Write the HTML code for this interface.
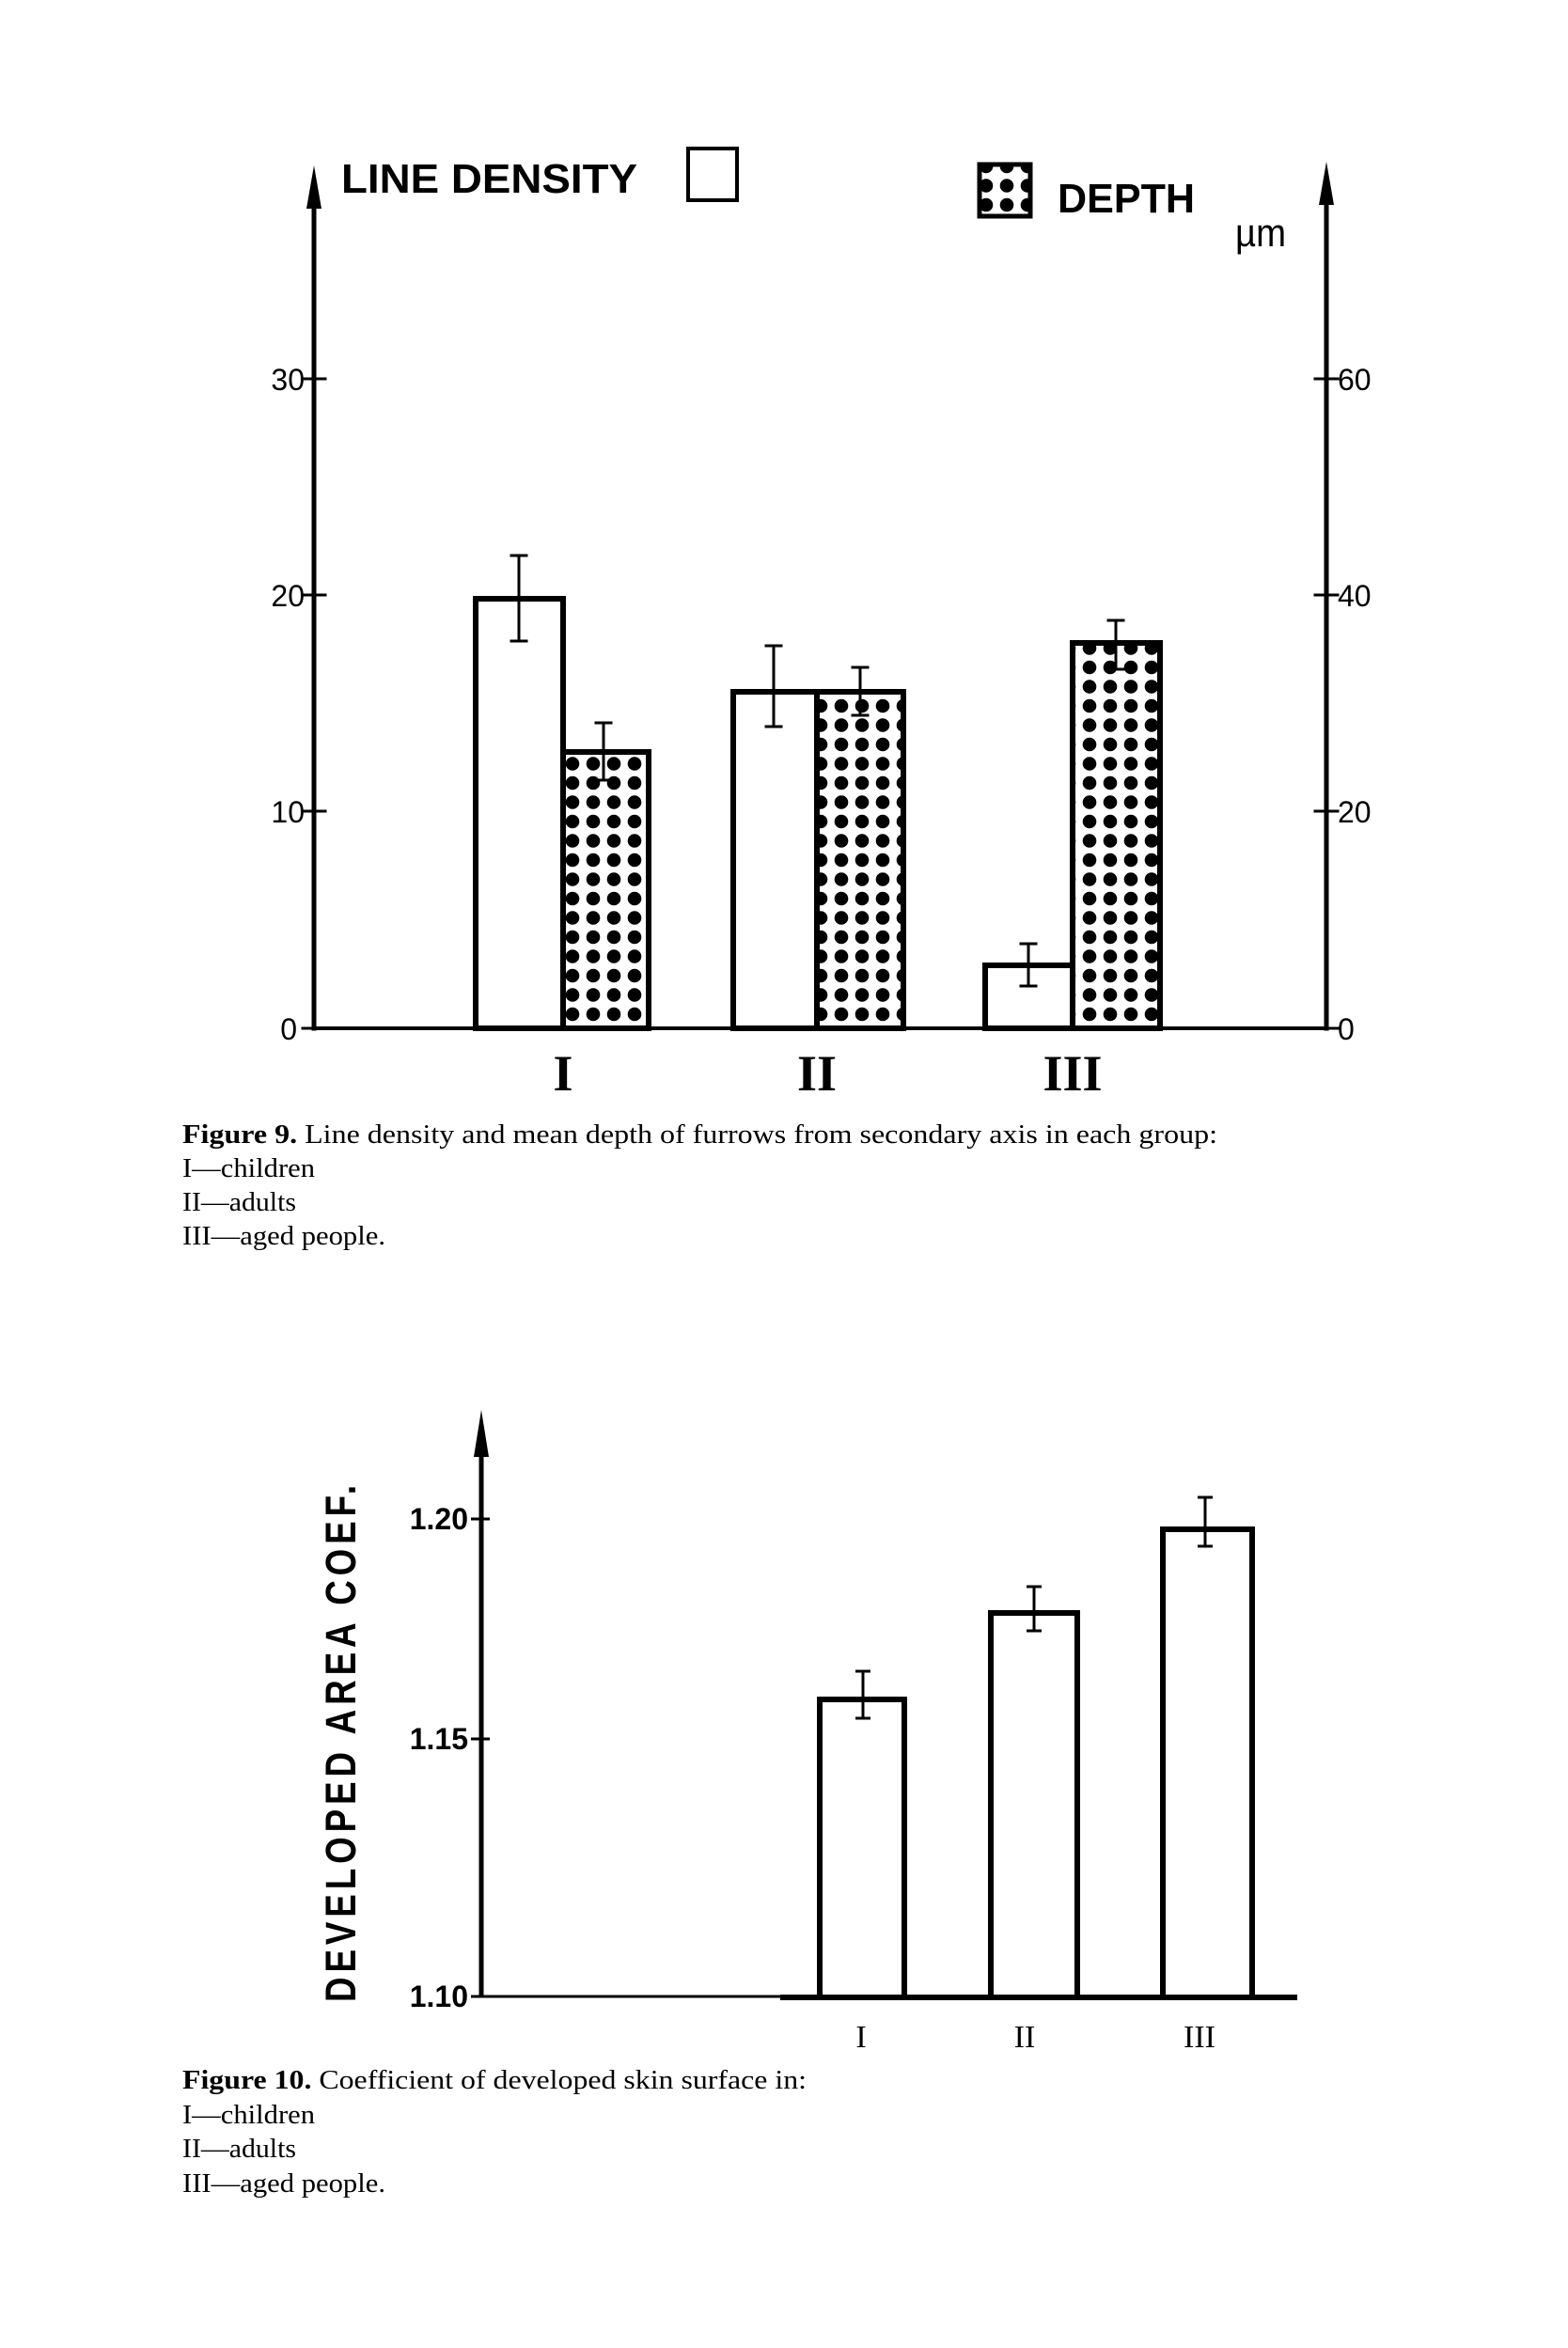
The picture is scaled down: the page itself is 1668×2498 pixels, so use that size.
<!DOCTYPE html>
<html><head><meta charset="utf-8"><style>html,body{margin:0;padding:0;background:#fff}svg{display:block}</style></head>
<body>
<svg width="1668" height="2498" viewBox="0 0 1668 2498" xmlns="http://www.w3.org/2000/svg">
<defs>
<pattern id="dots" width="22" height="20.5" patternUnits="userSpaceOnUse" x="4" y="3">
<circle cx="11" cy="10" r="7.3" fill="#000"/>
</pattern>
</defs>
<g stroke="#000" fill="none" stroke-linecap="square">
<line x1="334" y1="200" x2="334" y2="1094" stroke-width="5"/>
<polygon points="334,176 326,222 342,222" fill="#000" stroke="none"/>
<line x1="1411" y1="200" x2="1411" y2="1094" stroke-width="5"/>
<polygon points="1411,172 1403,218 1419,218" fill="#000" stroke="none"/>
<line x1="334" y1="1094" x2="1411" y2="1094" stroke-width="4"/>
<line x1="322" y1="403" x2="346" y2="403" stroke-width="3"/>
<line x1="322" y1="633" x2="346" y2="633" stroke-width="3"/>
<line x1="322" y1="863" x2="346" y2="863" stroke-width="3"/>
<line x1="322" y1="1094" x2="334" y2="1094" stroke-width="3"/>
<line x1="1399" y1="403" x2="1423" y2="403" stroke-width="3"/>
<line x1="1399" y1="633" x2="1423" y2="633" stroke-width="3"/>
<line x1="1399" y1="863" x2="1423" y2="863" stroke-width="3"/>
<line x1="1411" y1="1094" x2="1423" y2="1094" stroke-width="3"/>
<rect x="506" y="637" width="93" height="457" stroke-width="6"/>
<rect x="599" y="800" width="91" height="294" stroke-width="6" fill="url(#dots)"/>
<rect x="780" y="736" width="89" height="358" stroke-width="6"/>
<rect x="869" y="736" width="92" height="358" stroke-width="6" fill="url(#dots)"/>
<rect x="1048" y="1027" width="93" height="67" stroke-width="6"/>
<rect x="1141" y="684" width="93" height="410" stroke-width="6" fill="url(#dots)"/>
<g stroke-width="3">
<path d="M552 591V682M544 591H560M544 682H560"/>
<path d="M642 769V830M634 769H650M634 830H650"/>
<path d="M823 687V773M815 687H831M815 773H831"/>
<path d="M915 710V761M907 710H923M907 761H923"/>
<path d="M1094 1004V1049M1086 1004H1102M1086 1049H1102"/>
<path d="M1187 660V712M1179 660H1195M1179 712H1195"/>
</g>
<rect x="732" y="158" width="52" height="55" stroke-width="4"/>
<rect x="1042" y="175" width="54" height="55" stroke-width="5" fill="url(#dots)"/>
</g>
<g font-family="Liberation Sans, sans-serif" fill="#000">
<text x="363" y="205" font-size="44" font-weight="bold" textLength="315" lengthAdjust="spacingAndGlyphs">LINE DENSITY</text>
<text x="1125" y="226" font-size="44" font-weight="bold" textLength="146" lengthAdjust="spacingAndGlyphs">DEPTH</text>
<text x="1314" y="262" font-size="42" textLength="54" lengthAdjust="spacingAndGlyphs">µm</text>
<g font-size="32" text-anchor="end">
<text x="324" y="415">30</text><text x="324" y="645">20</text><text x="324" y="875">10</text><text x="316" y="1106">0</text>
</g>
<g font-size="32">
<text x="1423" y="415">60</text><text x="1423" y="645">40</text><text x="1423" y="875">20</text><text x="1423" y="1106">0</text>
</g>
</g>
<g font-family="Liberation Serif, serif" font-weight="bold" font-size="54" text-anchor="middle" fill="#000">
<text x="599" y="1160">I</text><text x="869" y="1160">II</text><text x="1141" y="1160">III</text>
</g>
<g font-family="Liberation Serif, serif" font-size="28" fill="#000">
<text x="194" y="1216" textLength="1101" lengthAdjust="spacingAndGlyphs"><tspan font-weight="bold">Figure 9.</tspan> Line density and mean depth of furrows from secondary axis in each group:</text>
<text x="194" y="1252" textLength="141" lengthAdjust="spacingAndGlyphs">I—children</text>
<text x="194" y="1288" textLength="121" lengthAdjust="spacingAndGlyphs">II—adults</text>
<text x="194" y="1324" textLength="216" lengthAdjust="spacingAndGlyphs">III—aged people.</text>
</g>
<g stroke="#000" fill="none">
<line x1="512" y1="1530" x2="512" y2="2125" stroke-width="5"/>
<polygon points="512,1500 504,1550 520,1550" fill="#000" stroke="none"/>
<line x1="512" y1="2124" x2="830" y2="2124" stroke-width="3"/>
<line x1="830" y1="2125" x2="1380" y2="2125" stroke-width="6"/>
<line x1="501" y1="1616" x2="521" y2="1616" stroke-width="3"/>
<line x1="501" y1="1850" x2="521" y2="1850" stroke-width="3"/>
<line x1="501" y1="2124" x2="512" y2="2124" stroke-width="3"/>
<rect x="872" y="1808" width="90" height="317" stroke-width="6"/>
<rect x="1054" y="1716" width="92" height="409" stroke-width="6"/>
<rect x="1237" y="1627" width="95" height="498" stroke-width="6"/>
<g stroke-width="3">
<path d="M918 1778V1828M910 1778H926M910 1828H926"/>
<path d="M1100 1688V1735M1092 1688H1108M1092 1735H1108"/>
<path d="M1282 1593V1645M1274 1593H1290M1274 1645H1290"/>
</g>
</g>
<g font-family="Liberation Sans, sans-serif" fill="#000">
<g font-size="32" font-weight="bold" text-anchor="end">
<text x="498" y="1627">1.20</text><text x="498" y="1861">1.15</text><text x="498" y="2135">1.10</text>
</g>
<text transform="translate(378,2130) rotate(-90)" font-size="45" font-weight="bold" textLength="555" lengthAdjust="spacingAndGlyphs" letter-spacing="6">DEVELOPED  AREA  COEF.</text>
</g>
<g font-family="Liberation Serif, serif" font-size="34" text-anchor="middle" fill="#000">
<text x="916" y="2178">I</text><text x="1090" y="2178">II</text><text x="1276" y="2178">III</text>
</g>
<g font-family="Liberation Serif, serif" font-size="28" fill="#000">
<text x="194" y="2222" textLength="664" lengthAdjust="spacingAndGlyphs"><tspan font-weight="bold">Figure 10.</tspan> Coefficient of developed skin surface in:</text>
<text x="194" y="2259" textLength="141" lengthAdjust="spacingAndGlyphs">I—children</text>
<text x="194" y="2295" textLength="121" lengthAdjust="spacingAndGlyphs">II—adults</text>
<text x="194" y="2332" textLength="216" lengthAdjust="spacingAndGlyphs">III—aged people.</text>
</g>
</svg>
</body></html>
